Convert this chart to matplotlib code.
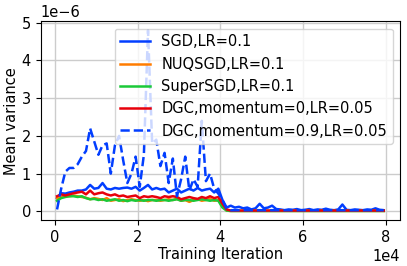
import matplotlib
matplotlib.use("Agg")
import matplotlib.pyplot as plt

# Training iteration (one point every 1000 steps)
iterations = [500, 1500, 2500, 3500, 4500, 5500, 6500, 7500, 8500, 9500,
              10500, 11500, 12500, 13500, 14500, 15500, 16500, 17500, 18500, 19500,
              20500, 21500, 22500, 23500, 24500, 25500, 26500, 27500, 28500, 29500,
              30500, 31500, 32500, 33500, 34500, 35500, 36500, 37500, 38500, 39500,
              40500, 41500, 42500, 43500, 44500, 45500, 46500, 47500, 48500, 49500,
              50500, 51500, 52500, 53500, 54500, 55500, 56500, 57500, 58500, 59500,
              60500, 61500, 62500, 63500, 64500, 65500, 66500, 67500, 68500, 69500,
              70500, 71500, 72500, 73500, 74500, 75500, 76500, 77500, 78500, 79500]

# Mean variance, in units of 1e-6
sgd = [0.35, 0.48, 0.47, 0.50, 0.52, 0.55, 0.55, 0.58, 0.70, 0.60,
       0.62, 0.75, 0.60, 0.58, 0.62, 0.60, 0.62, 0.63, 0.60, 0.65,
       0.55, 0.62, 0.70, 0.58, 0.62, 0.58, 0.60, 0.50, 0.55, 0.60,
       0.50, 0.55, 0.60, 0.55, 0.62, 0.55, 0.58, 0.60, 0.50, 0.60,
       0.30, 0.10, 0.15, 0.10, 0.12, 0.08, 0.10, 0.05, 0.08, 0.20,
       0.08, 0.10, 0.15, 0.06, 0.05, 0.03, 0.05, 0.04, 0.06, 0.03,
       0.04, 0.06, 0.03, 0.05, 0.04, 0.07, 0.04, 0.03, 0.05, 0.18,
       0.04, 0.03, 0.05, 0.04, 0.03, 0.05, 0.04, 0.08, 0.04, 0.03]

nuqsgd = [0.35, 0.38, 0.40, 0.40, 0.42, 0.40, 0.38, 0.36, 0.32, 0.35,
          0.33, 0.30, 0.35, 0.28, 0.30, 0.32, 0.27, 0.30, 0.32, 0.30,
          0.28, 0.30, 0.27, 0.30, 0.30, 0.28, 0.30, 0.32, 0.30, 0.33,
          0.28, 0.30, 0.25, 0.30, 0.32, 0.28, 0.30, 0.33, 0.28, 0.30,
          0.15, 0.02, 0.01, 0.01, 0.01, 0.01, 0.01, 0.01, 0.01, 0.01,
          0.01, 0.01, 0.01, 0.01, 0.01, 0.01, 0.01, 0.01, 0.01, 0.01,
          0.01, 0.01, 0.01, 0.01, 0.01, 0.01, 0.01, 0.01, 0.01, 0.01,
          0.01, 0.01, 0.01, 0.01, 0.01, 0.01, 0.01, 0.01, 0.01, 0.01]

supersgd = [0.28, 0.35, 0.38, 0.40, 0.40, 0.38, 0.40, 0.35, 0.32, 0.33,
            0.30, 0.32, 0.28, 0.30, 0.32, 0.28, 0.30, 0.27, 0.30, 0.28,
            0.30, 0.28, 0.30, 0.30, 0.28, 0.30, 0.30, 0.28, 0.30, 0.32,
            0.28, 0.30, 0.30, 0.28, 0.30, 0.32, 0.30, 0.28, 0.30, 0.28,
            0.10, 0.02, 0.01, 0.01, 0.01, 0.01, 0.01, 0.01, 0.01, 0.01,
            0.01, 0.01, 0.01, 0.01, 0.01, 0.01, 0.01, 0.01, 0.01, 0.01,
            0.01, 0.01, 0.01, 0.01, 0.01, 0.01, 0.01, 0.01, 0.01, 0.01,
            0.01, 0.01, 0.01, 0.01, 0.01, 0.01, 0.01, 0.01, 0.01, 0.01]

dgc_m0 = [0.40, 0.45, 0.42, 0.45, 0.48, 0.50, 0.52, 0.45, 0.55, 0.45,
          0.48, 0.50, 0.45, 0.42, 0.45, 0.40, 0.42, 0.38, 0.40, 0.42,
          0.35, 0.40, 0.38, 0.40, 0.38, 0.35, 0.40, 0.38, 0.40, 0.38,
          0.32, 0.35, 0.38, 0.35, 0.33, 0.38, 0.35, 0.40, 0.35, 0.38,
          0.20, 0.05, 0.02, 0.02, 0.02, 0.02, 0.02, 0.02, 0.02, 0.02,
          0.02, 0.02, 0.02, 0.02, 0.02, 0.02, 0.02, 0.02, 0.02, 0.02,
          0.02, 0.02, 0.02, 0.02, 0.02, 0.02, 0.02, 0.02, 0.02, 0.02,
          0.02, 0.02, 0.02, 0.02, 0.02, 0.02, 0.02, 0.02, 0.02, 0.02]

dgc_m09 = [0.05, 0.60, 1.05, 1.15, 1.15, 1.25, 1.45, 1.60, 2.20, 1.85,
           1.50, 1.75, 1.80, 1.00, 1.75, 2.00, 1.35, 0.75, 1.00, 1.45,
           0.65, 1.50, 4.80, 1.80, 1.90, 1.20, 1.55, 0.75, 1.40, 0.40,
           0.85, 1.45, 0.55, 0.85, 0.65, 2.40, 0.80, 1.00, 0.60, 0.47,
           0.30, 0.07, 0.03, 0.03, 0.03, 0.03, 0.03, 0.03, 0.03, 0.03,
           0.03, 0.03, 0.03, 0.03, 0.03, 0.03, 0.03, 0.03, 0.03, 0.03,
           0.03, 0.03, 0.03, 0.03, 0.03, 0.03, 0.03, 0.03, 0.03, 0.03,
           0.03, 0.03, 0.03, 0.03, 0.03, 0.03, 0.03, 0.03, 0.03, 0.03]

labels = ["SGD,LR=0.1", "NUQSGD,LR=0.1", "SuperSGD,LR=0.1",
          "DGC,momentum=0,LR=0.05", "DGC,momentum=0.9,LR=0.05"]
colors = ["#023eff", "#ff7c00", "#1ac938", "#e8000b", "#023eff"]
styles = ["-", "-", "-", "-", "--"]

plt.rcParams["font.size"] = 10.5

fig, ax = plt.subplots(figsize=(4.07, 2.66), dpi=100)
for vals, lab, col, ls in zip([sgd, nuqsgd, supersgd, dgc_m0, dgc_m09],
                              labels, colors, styles):
    ax.plot(iterations, [v * 1e-6 for v in vals], ls, color=col, lw=1.8, label=lab)

ax.grid(True, color="#cccccc", lw=1)
ax.set_axisbelow(True)
ax.ticklabel_format(axis="both", style="sci", scilimits=(0, 0))
ax.set_xlabel("Training Iteration", labelpad=2)
ax.set_ylabel("Mean variance", labelpad=2)
ax.legend(loc="upper right")

fig.subplots_adjust(left=0.10, right=0.983, top=0.92, bottom=0.173)
fig.savefig("out.png")
